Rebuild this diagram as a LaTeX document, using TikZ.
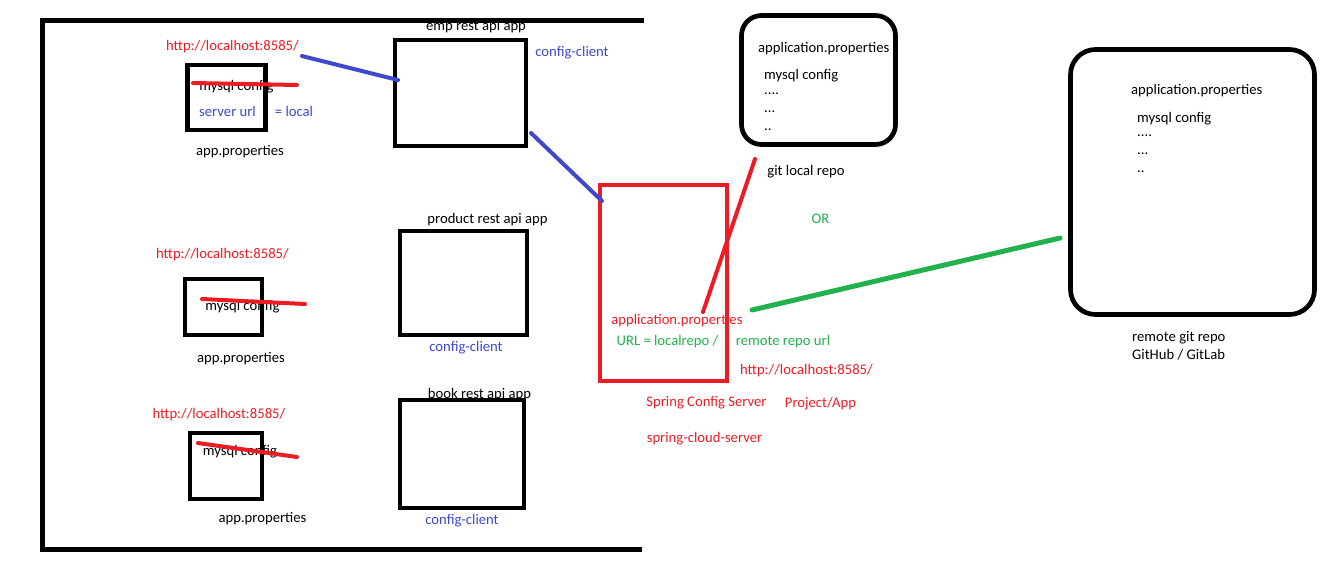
\documentclass[tikz,border=0pt]{standalone}
\usepackage{fontspec}
\setmainfont{Carlito}
\usepackage{tikz}
\definecolor{paintred}{RGB}{237,28,36}
\definecolor{paintblue}{RGB}{63,72,204}
\definecolor{paintgreen}{RGB}{34,177,76}

\begin{document}
\begin{tikzpicture}
	[x=1pt,y=-1pt,every node/.style={inner sep=0pt,font=\fontsize{14.67}{17}\selectfont}]
	\tikzstyle{box} = [draw,line width=4.7pt];
	\tikzstyle{repo} = [draw,line width=4.7pt,rounded corners=20pt];
	\tikzstyle{strike} = [paintred,line width=4pt,line cap=round];
	\tikzstyle{edges} = [line width=4pt,line cap=round];
	\useasboundingbox (0,0) rectangle (1330,574);

	% client apps
	\node[] (emplbl) at (476,27) {emp rest api app};
	\node[box,minimum width=131pt,minimum height=106pt] (emp) at (460.5,93) {};
	\node[text=paintblue] (empcc) at (572,53) {config-client};
	\node[] (prodlbl) at (487.5,220) {product rest api app};
	\node[box,minimum width=127pt,minimum height=104pt] (prod) at (463.5,283) {};
	\node[text=paintblue] (prodcc) at (466,348) {config-client};
	\node[] (booklbl) at (479.5,395) {book rest api app};
	\node[box,minimum width=124pt,minimum height=108pt] (book) at (462,454) {};
	\node[text=paintblue] (bookcc) at (462,521) {config-client};

	% frame
	\draw[line width=5pt] (644,20) -- (42,20) -- (42,549.5) -- (642,549.5);

	% app.properties
	\node[box,minimum width=78pt,minimum height=65pt] (prop1) at (226.5,97.5) {};
	\node[text=paintred] (url1) at (232.5,47) {http://localhost:8585/};
	\node[] (my1) at (236.5,87) {mysql config};
	\node[text=paintblue] (srv1) at (227.5,111) {server url};
	\node[text=paintblue] (loc1) at (294,111) {= local};
	\node[] (ap1) at (240,152) {app.properties};

	\node[box,minimum width=77pt,minimum height=56pt] (prop2) at (223.5,307) {};
	\node[text=paintred] (url2) at (222.5,255) {http://localhost:8585/};
	\node[] (my2) at (242.5,307) {mysql config};
	\node[] (ap2) at (241,359) {app.properties};

	\node[box,minimum width=72pt,minimum height=66pt] (prop3) at (226,466) {};
	\node[text=paintred] (url3) at (219,415) {http://localhost:8585/};
	\node[] (my3) at (240,452) {mysql config};
	\node[] (ap3) at (262.5,519) {app.properties};

	\coordinate (s1a) at (193,83);
	\coordinate (s1b) at (297,85);
	\coordinate (s2a) at (202,299);
	\coordinate (s2b) at (305,304);
	\coordinate (s3a) at (198,443);
	\coordinate (s3b) at (297,457);
	\draw[strike] (s1a) -- (s1b);
	\draw[strike] (s2a) -- (s2b);
	\draw[strike] (s3a) -- (s3b);

	% config server
	\node[draw=paintred,line width=4pt,minimum width=127pt,minimum height=196pt] (server) at (663.5,283) {};
	\node[text=paintred] (srvprop) at (677,321) {application.properties};
	\node[text=paintgreen] (srvurl) at (667.5,342) {URL = localrepo /};
	\node[text=paintgreen] (rmturl) at (783,342) {remote repo url};
	\node[text=paintred] (srvhttp) at (806.5,371) {http://localhost:8585/};
	\node[text=paintred] (srvname) at (706.5,403) {Spring Config Server};
	\node[text=paintred] (proj) at (820.5,404) {Project/App};
	\node[text=paintred] (dep) at (704.5,439) {spring-cloud-server};

	% git local repo
	\node[anchor=west] (lprop) at (758,49) {application.properties};
	\node[anchor=west] (lmy) at (764,76) {mysql config};
	\node[anchor=west] (ld1) at (764,94) {....};
	\node[anchor=west] (ld2) at (764,112) {...};
	\node[anchor=west] (ld3) at (764,130) {..};
	\node[repo,minimum width=154pt,minimum height=129pt] (local) at (818.5,80) {};
	\node[] (locallbl) at (806,172) {git local repo};
	\node[text=paintgreen] (or) at (820.5,219) {OR};

	% remote git repo
	\node[repo,minimum width=244pt,minimum height=265pt,rounded corners=25pt] (remote) at (1192.5,182) {};
	\node[anchor=west] (rprop) at (1131,91) {application.properties};
	\node[anchor=west] (rmy) at (1137,119) {mysql config};
	\node[anchor=west] (rd1) at (1137,136) {....};
	\node[anchor=west] (rd2) at (1137,154) {...};
	\node[anchor=west] (rd3) at (1137,172) {..};
	\node[anchor=west] (rmtlbl) at (1132,338) {remote git repo};
	\node[anchor=west] (hub) at (1132,355) {GitHub / GitLab};

	% links
	\coordinate (b1) at (302,56);
	\coordinate (b2) at (398,80);
	\coordinate (b3) at (531,133);
	\coordinate (b4) at (602,201);
	\coordinate (r1) at (703,312);
	\coordinate (r2) at (755,159);
	\coordinate (g1) at (752,310);
	\coordinate (g2) at (1060,238);
	\draw[edges,paintblue] (b1) -- (b2);
	\draw[edges,paintblue] (b3) -- (b4);
	\draw[edges,paintred] (r1) -- (r2);
	\draw[edges,paintgreen,line width=5pt] (g1) -- (g2);
\end{tikzpicture}
\end{document}
